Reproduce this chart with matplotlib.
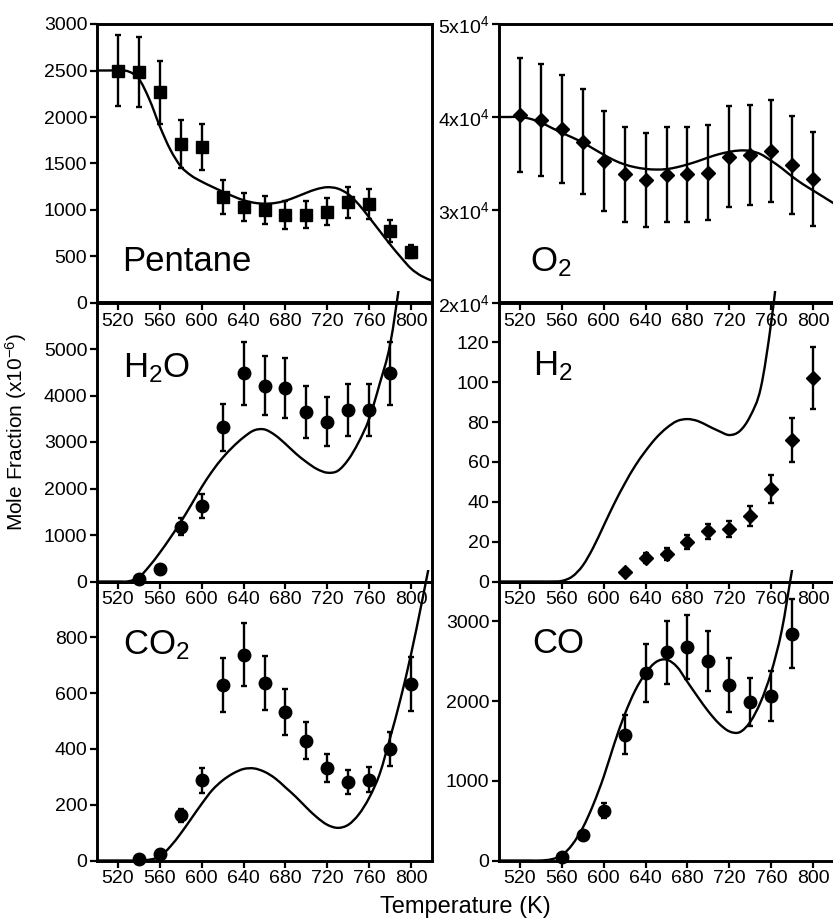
import matplotlib
matplotlib.use('Agg')
import matplotlib.pyplot as plt
from matplotlib.transforms import Bbox, TransformedBbox
from matplotlib.ticker import FuncFormatter
from matplotlib.path import Path
from matplotlib.patches import PathPatch

plt.rcParams['font.family'] = ['Liberation Sans', 'DejaVu Sans']
plt.rcParams['mathtext.default'] = 'regular'

# ---------------- data ----------------
x_ticks = [520, 560, 600, 640, 680, 720, 760, 800]
model_T = [500, 510, 520, 530, 540, 550, 560, 570, 580, 590, 600, 610, 620, 630, 640, 650,
           660, 670, 680, 690, 700, 710, 720, 730, 740, 750, 760, 770, 780, 790, 800, 810, 820]

pentane_T = [520, 540, 560, 580, 600, 620, 640, 660, 680, 700, 720, 740, 760, 780, 800]
pentane_v = [2500, 2482, 2266, 1709, 1676, 1140, 1032, 1004, 950, 950, 982, 1083, 1061, 773, 550]
pentane_e = [380, 375, 340, 260, 250, 180, 155, 150, 150, 145, 147, 165, 160, 115, 70]
pentane_model = [2500, 2500, 2500, 2490, 2410, 2190, 1900, 1650, 1470, 1370, 1305, 1250, 1198,
                 1148, 1105, 1078, 1068, 1075, 1100, 1140, 1185, 1225, 1245, 1230, 1170, 1060,
                 920, 775, 630, 495, 370, 290, 240]

o2_T = [520, 540, 560, 580, 600, 620, 640, 660, 680, 700, 720, 740, 760, 780, 800]
o2_v = [40215, 39675, 38670, 37340, 35290, 33850, 33240, 33780, 33850, 34030, 35750, 35930,
        36370, 34860, 33310]
o2_e = [6100, 6000, 5800, 5650, 5350, 5100, 5050, 5100, 5100, 5150, 5400, 5400, 5500, 5250, 5050]
o2_model = [40000, 40000, 40000, 39800, 39400, 38850, 38300, 37800, 37250, 36600, 35950, 35350,
            34900, 34600, 34420, 34350, 34400, 34600, 34900, 35250, 35650, 36000, 36250, 36400,
            36350, 36000, 35300, 34500, 33600, 32800, 32100, 31400, 30700]

h2o_T = [540, 560, 580, 600, 620, 640, 660, 680, 700, 720, 740, 760, 780]
h2o_v = [50, 265, 1177, 1628, 3314, 4477, 4211, 4161, 3652, 3436, 3695, 3695, 4477]
h2o_e = [30, 60, 180, 260, 510, 680, 640, 640, 560, 530, 560, 560, 680]
h2o_model = [0, 0, 0, 5, 90, 330, 620, 940, 1280, 1650, 2030, 2370, 2660, 2900, 3100, 3250,
             3270, 3150, 2960, 2750, 2570, 2420, 2340, 2380, 2620, 3000, 3500, 4250, 5100,
             6600, 8500, 11000, 14000]

h2_T = [620, 640, 660, 680, 700, 720, 740, 760, 780, 800]
h2_v = [4.8, 12.0, 14.0, 19.8, 25.1, 26.4, 32.7, 46.5, 71.0, 102.0]
h2_e = [1.5, 2.5, 3.0, 3.5, 3.9, 4.2, 5.0, 7.0, 11.0, 15.5]
h2_model = [0, 0, 0, 0, 0, 0, 0.3, 2.5, 8, 17, 28, 39, 49, 58, 65.5, 72, 77, 80.5, 81.5, 80.5,
            78, 75.5, 73.5, 75.5, 83, 97, 130, 175, 230, 290, 350, 420, 500]

co2_T = [540, 560, 580, 600, 620, 640, 660, 680, 700, 720, 740, 760, 780, 800]
co2_v = [6, 25, 162, 288, 630, 738, 636, 532, 430, 332, 281, 290, 398, 633]
co2_e = [5, 12, 23, 45, 96, 112, 97, 82, 66, 51, 43, 44, 61, 96]
co2_model = [0, 0, 0, 0, 0, 3, 14, 50, 97, 150, 203, 252, 287, 312, 328, 330, 318, 295, 262,
             228, 190, 155, 128, 117, 128, 165, 225, 310, 440, 580, 740, 920, 1110]

co_T = [560, 580, 600, 620, 640, 660, 680, 700, 720, 740, 760, 780]
co_v = [42, 326, 627, 1575, 2352, 2611, 2678, 2503, 2202, 1989, 2060, 2845]
co_e = [30, 50, 96, 245, 365, 397, 407, 376, 339, 300, 315, 435]
co_model = [0, 0, 0, 0, 0, 15, 65, 200, 410, 700, 1050, 1460, 1830, 2130, 2350, 2490, 2520,
            2430, 2240, 2050, 1870, 1720, 1620, 1610, 1740, 1990, 2360, 2880, 3650, 4400,
            5200, 6000, 6800]

# ---------------- layout ----------------
W, H = 833, 919
fig = plt.figure(figsize=(W / 100, H / 100), dpi=100)

AXW, AXH = 335, 279
cols = [97, 499]
rows = [24, 302.5, 581.5]


def make_ax(col, row):
    x0 = cols[col]
    top = rows[row]
    return fig.add_axes([x0 / W, 1 - (top + AXH) / H, AXW / W, AXH / H])


def smooth_path(xs, ys):
    """Catmull-Rom curve through the given points, as cubic Bezier segments."""
    pts = list(zip(xs, ys))
    n = len(pts)
    verts = [pts[0]]
    codes = [Path.MOVETO]
    for i in range(n - 1):
        p0 = pts[i - 1] if i > 0 else pts[i]
        p1 = pts[i]
        p2 = pts[i + 1]
        p3 = pts[i + 2] if i + 2 < n else pts[i + 1]
        c1 = (p1[0] + (p2[0] - p0[0]) / 6, p1[1] + (p2[1] - p0[1]) / 6)
        c2 = (p2[0] - (p3[0] - p1[0]) / 6, p2[1] - (p3[1] - p1[1]) / 6)
        verts += [c1, c2, p2]
        codes += [Path.CURVE4] * 3
    return Path(verts, codes)


panels = [
    dict(col=0, row=0, label='Pentane', T=pentane_T, v=pentane_v, e=pentane_e,
         model=pentane_model, ylim=(0, 3000), yticks=[0, 500, 1000, 1500, 2000, 2500, 3000],
         marker='s', ms=8.5, lx=122, lby=271),
    dict(col=1, row=0, label='O$_2$', T=o2_T, v=o2_v, e=o2_e, model=o2_model,
         ylim=(20000, 50000), yticks=[20000, 30000, 40000, 50000], marker='D', ms=7.0,
         lx=530, lby=271, sci=True),
    dict(col=0, row=1, label='H$_2$O', T=h2o_T, v=h2o_v, e=h2o_e, model=h2o_model,
         ylim=(0, 6000), yticks=[0, 1000, 2000, 3000, 4000, 5000], marker='o', ms=9,
         lx=123, lby=377),
    dict(col=1, row=1, label='H$_2$', T=h2_T, v=h2_v, e=h2_e, model=h2_model,
         ylim=(0, 140), yticks=[0, 20, 40, 60, 80, 100, 120], marker='D', ms=7.0,
         lx=533, lby=375),
    dict(col=0, row=2, label='CO$_2$', T=co2_T, v=co2_v, e=co2_e, model=co2_model,
         ylim=(0, 1000), yticks=[0, 200, 400, 600, 800], marker='o', ms=9,
         lx=123, lby=654),
    dict(col=1, row=2, label='CO', T=co_T, v=co_v, e=co_e, model=co_model,
         ylim=(0, 3500), yticks=[0, 1000, 2000, 3000], marker='o', ms=9,
         lx=532, lby=653),
]

for p in panels:
    ax = make_ax(p['col'], p['row'])
    ax.patch.set_visible(False)
    ax.set_xlim(500, 820)
    ax.set_ylim(*p['ylim'])
    ax.set_xticks(x_ticks)
    ax.set_yticks(p['yticks'])
    if p.get('sci'):
        ax.yaxis.set_major_formatter(FuncFormatter(lambda v, pos: '$%dx10^{4}$' % round(v / 1e4)))
    ax.tick_params(direction='out', length=5, width=1.6, labelsize=14, pad=2,
                   top=False, right=False)
    for s in ax.spines.values():
        s.set_linewidth(2.1)
    if p['col'] == 1:
        ax.spines['right'].set_visible(False)

    patch = PathPatch(smooth_path(model_T, p['model']), facecolor='none', edgecolor='black',
                      lw=1.7, transform=ax.transData, zorder=2, capstyle='round',
                      joinstyle='round')
    ax.add_patch(patch)
    patch.set_clip_box(TransformedBbox(Bbox([[0, -0.01], [1, 1 + 12 / AXH]]), ax.transAxes))

    eb = ax.errorbar(p['T'], p['v'], yerr=p['e'], fmt=p['marker'], color='black',
                     ms=p['ms'], capsize=2.2, elinewidth=1.7, capthick=1.7, zorder=3)
    data_line, caps, bars = eb.lines
    data_line.set_clip_on(False)
    for c in caps:
        c.set_clip_on(False)
    for b in bars:
        b.set_clip_on(False)

    ax.text((p['lx'] - cols[p['col']]) / AXW, 1 - (p['lby'] - rows[p['row']]) / AXH,
            p['label'], transform=ax.transAxes, ha='left', va='baseline', fontsize=25)

fig.text(16 / W, 1 - 432 / H, 'Mole Fraction (x10$^{-6}$)', rotation=90,
         ha='center', va='center', fontsize=15)
fig.text(465.5 / W, 1 - 913 / H, 'Temperature (K)', ha='center', va='baseline',
         fontsize=17)

fig.savefig('out.png', dpi=100)
